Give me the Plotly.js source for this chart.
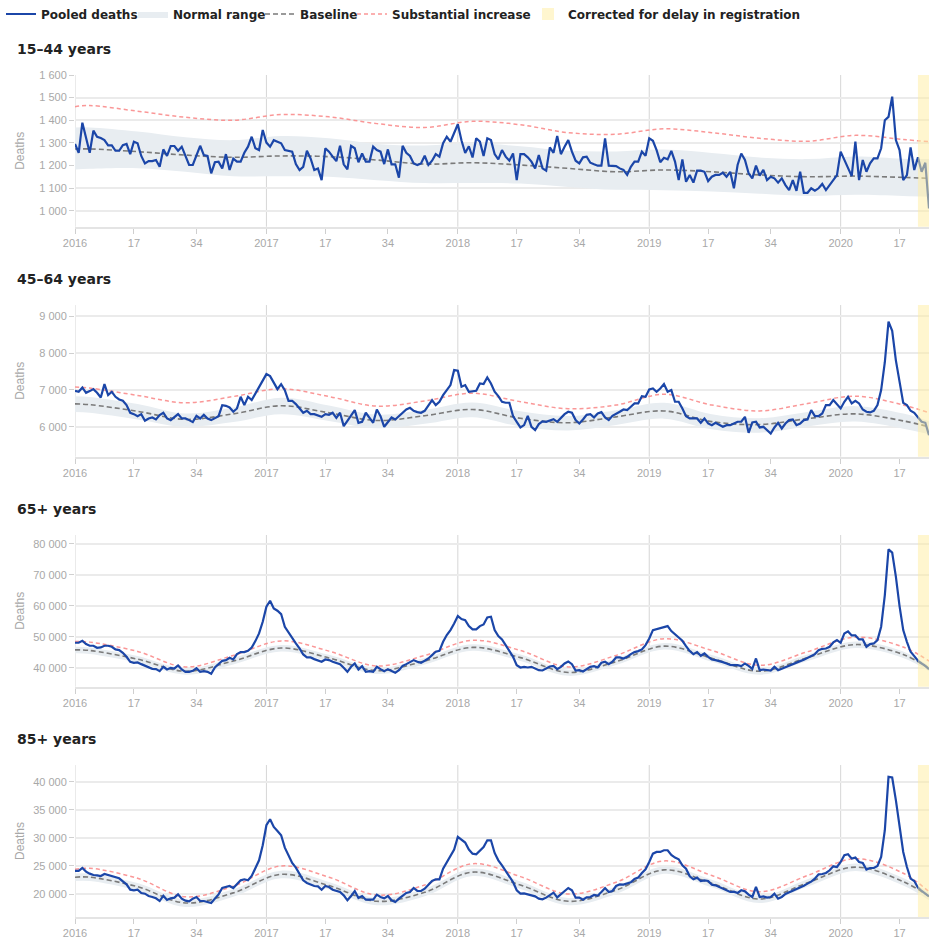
<!DOCTYPE html>
<html>
<head>
<meta charset="utf-8">
<script src="https://cdn.plot.ly/plotly-3.0.1.min.js"></script>
<style>
  body { margin: 0; background: #fff; }
  #chart { width: 943px; height: 948px; }
</style>
</head>
<body>
<div id="chart"></div>
<script>
// Weeks shown: 2016 w1 .. 2020 w25
const years = [2016, 2017, 2018, 2019, 2020];
const weeksInYear = [52, 52, 52, 52, 25];
const tickWeeks = [1, 17, 34];
const correctedWeeks2020 = [22, 25]; // corrected for delay in registration

const groupNames = ["15–44 years", "45–64 years", "65+ years", "85+ years"];

// Pooled deaths, one value per week
const pooled15_44 = [
  1295,1256,1389,1327,1256,1354,1327,1321,1312,1289,1289,1265,1265,1290,1295,1250,1305,1298,1242,1209,
  1219,1219,1224,1194,1271,1242,1286,1286,1265,1283,1246,1202,1202,1246,1287,1246,1242,1165,1214,1217,
  1187,1250,1180,1230,1217,1217,1256,1283,1327,1276,1268,1357,1301,1283,1312,1305,1298,1268,1265,1261,
  1206,1180,1194,1265,1231,1180,1187,1135,1276,1261,1239,1219,1287,1205,1183,1287,1276,1214,1253,1217,
  1217,1283,1268,1261,1206,1271,1205,1205,1146,1287,1256,1242,1209,1202,1209,1243,1202,1221,1250,1239,
  1298,1327,1305,1342,1382,1310,1255,1285,1235,1320,1305,1242,1320,1312,1250,1227,1268,1239,1221,1253,
  1135,1250,1250,1236,1217,1187,1246,1187,1177,1280,1256,1330,1250,1283,1312,1261,1221,1209,1236,1239,
  1212,1205,1199,1199,1320,1199,1197,1197,1187,1180,1158,1194,1217,1217,1261,1243,1320,1309,1268,1214,
  1234,1227,1264,1217,1135,1227,1128,1158,1124,1177,1177,1172,1131,1150,1158,1158,1168,1150,1172,1099,
  1202,1253,1224,1165,1143,1199,1155,1180,1135,1150,1143,1124,1143,1113,1091,1135,1088,1172,1079,1079,
  1099,1088,1099,1118,1091,1113,1135,1157,1261,1224,1194,1153,1305,1135,1224,1172,1209,1231,1231,1276,
  1400,1415,1504,1312,1268,1135,1157,1280,1180,1236,1172,1212,1010
];
const pooled45_64 = [
  6976,6949,7066,6922,6967,7021,6922,6795,7157,6858,6949,6813,6741,6705,6587,6380,6343,6289,6343,6163,
  6226,6253,6199,6316,6380,6226,6181,6271,6343,6226,6226,6181,6127,6298,6226,6325,6226,6181,6235,6289,
  6587,6569,6524,6407,6497,6813,6587,6813,6723,6904,7084,7265,7428,7374,7193,7021,7157,6994,6705,6705,
  6614,6497,6380,6434,6343,6343,6316,6271,6343,6325,6380,6244,6380,6018,6163,6316,6452,6108,6136,6380,
  6226,6108,6470,6289,6000,6136,6253,6199,6289,6380,6470,6515,6434,6398,6380,6434,6587,6723,6587,6678,
  6858,7012,7130,7536,7518,7084,7130,6949,6967,6976,7175,7157,7337,7175,6949,6831,6678,6651,6651,6289,
  6136,5982,6045,6298,6000,5910,6072,6145,6136,6181,6208,6136,6235,6343,6407,6380,6181,6090,6199,6325,
  6343,6253,6362,6398,6253,6181,6298,6343,6407,6470,6452,6542,6633,6633,6831,6813,7012,7039,6949,7039,
  7157,6949,6994,6678,6678,6497,6289,6226,6235,6226,6108,6226,6090,6045,6108,6045,6000,6045,6045,6090,
  6136,6136,6271,5837,6118,6136,5982,6000,5910,5819,5982,6108,5955,6090,6181,6199,6045,6090,6181,6199,
  6452,6289,6289,6362,6587,6587,6723,6614,6497,6678,6813,6633,6705,6633,6470,6407,6389,6434,6587,6994,
  7750,8850,8600,7800,7250,6650,6587,6434,6380,6271,6136,6108,5774
];
const pooled65 = [
  48090,48090,48740,47660,47120,47120,46470,46580,47120,47120,46800,45940,45720,44860,43560,41950,41620,41730,41190,40650,
  40000,39680,39570,38930,40330,39460,40000,39790,40760,39460,38710,38710,39040,39900,38710,38930,38710,38070,40110,41080,
  42270,42490,43240,42700,44430,45080,45080,45500,46580,48630,51110,54880,59730,61670,59190,58440,57360,53270,51320,49490,
  47870,46250,44310,43350,43350,42810,42490,41950,42700,42490,41950,41620,41190,40000,38710,40330,41400,39460,40540,38710,
  38930,38710,40330,39570,38930,39570,39040,38390,39250,40650,41190,41840,42490,41950,41620,42270,43020,44100,45180,45500,
  48410,50570,52190,54340,56720,55750,55420,53480,52400,52400,53480,54020,56280,56500,52190,50250,49170,47330,45500,43560,
  40870,40110,40330,40110,40330,39680,39250,39140,39680,40440,40650,39570,40330,41400,42050,41190,39140,39250,38820,39680,
  40330,40540,40110,41620,41950,41190,41950,43350,43350,43020,43560,44430,45080,45400,45940,47330,49490,52190,52510,52620,
  53050,53480,51860,50790,50030,48740,47010,45400,44430,45080,43890,44640,43560,42700,42490,42270,41840,41400,40980,40870,
  40870,40540,41400,40650,39680,43020,39250,39460,39250,39140,40330,39250,39680,40220,40760,41190,41620,42160,42590,43130,
  43670,44430,45720,46150,46250,46800,48200,48950,48090,51110,51760,50460,50460,49170,49170,46800,47660,47870,48950,53270,
  63500,78300,77200,69430,59950,52190,48410,45180,43780,42270,41400,40650,39570
];
const pooled85 = [
  24110,24110,24640,23990,23630,23390,23330,23210,23570,23390,23100,23040,22800,22260,21730,20770,20660,20770,20180,20060,
  19640,19470,19230,18750,19700,18930,19230,19350,19940,19170,18810,18690,19170,19470,18750,18750,18570,18390,19170,19940,
  21070,21250,21430,21070,21850,22440,22620,22440,23210,24520,26010,28690,32260,33330,31960,31250,30480,28270,26900,25540,
  24700,23450,22440,21970,21730,21430,21370,20770,21430,21250,20770,20540,20360,19760,18870,19640,20540,19290,19640,18990,
  18990,18990,19880,19470,19230,19640,18870,18570,19170,19760,20180,20360,21070,20540,20540,20950,21550,22320,22620,22620,
  24520,25710,26900,27920,30180,29700,29170,27920,27200,27080,27800,28390,29580,29580,27320,26010,25120,24110,23160,22140,
  20660,20060,20120,19940,19880,19580,19170,19050,19350,19880,20240,19410,19940,20540,21070,20660,19350,19350,18990,19410,
  19470,19820,19700,20360,21070,20360,20540,21430,21730,21670,21850,22080,22680,22920,23750,24410,25710,27200,27500,27500,
  27800,27800,26970,26490,26190,25120,24520,23160,22620,22920,22320,22440,22320,21670,21550,21250,21070,20770,20360,20420,
  20180,20660,20480,19880,19470,21250,19470,19580,19350,19470,20060,19170,19470,20000,20300,20480,20770,21190,21490,21850,
  22200,22740,23510,23570,23750,24230,24940,24820,25710,26900,27080,26310,26490,25710,25540,24350,24640,24640,25000,26610,
  31370,40890,40770,36730,31670,27500,24820,22740,22320,21130,20540,20060,19580
];

// Smooth curves, read at these week positions (index from 2016 w1)
const curveWeeks = [0,4,17,30,43,56,69,82,95,108,121,134,147,160,173,186,199,212,225,232];

const baseline15_44 = [1273,1273,1261,1246,1236,1242,1239,1224,1206,1212,1202,1187,1172,1180,1172,1158,1150,1153,1147,1143];
const substantial15_44 = [1460,1465,1440,1413,1400,1425,1415,1385,1368,1395,1380,1345,1338,1362,1345,1320,1307,1333,1315,1305];
const upper15_44 = [1368,1368,1350,1325,1312,1330,1320,1295,1288,1298,1285,1265,1262,1270,1255,1235,1228,1240,1230,1228];
const lower15_44 = [1182,1185,1188,1172,1152,1152,1150,1135,1122,1122,1120,1105,1092,1090,1085,1075,1065,1070,1065,1062];

const baseline45_64 = [6620,6600,6420,6200,6350,6570,6380,6170,6300,6470,6230,6110,6270,6430,6140,6060,6220,6350,6160,6000];
const substantial45_64 = [7080,7050,6850,6650,6820,7030,6820,6560,6700,6910,6680,6490,6590,6880,6590,6430,6630,6830,6590,6380];
const upper45_64 = [6830,6810,6620,6360,6520,6790,6580,6330,6460,6660,6420,6290,6450,6650,6340,6230,6400,6560,6360,6150];
const lower45_64 = [6400,6380,6200,6000,6130,6340,6160,5960,6080,6260,6010,5900,6050,6220,5930,5840,6010,6140,5950,5800];

const baseline65 = [45800,45600,42800,38900,42200,46400,43200,39100,42200,46600,43300,38500,42000,47000,43100,38900,43300,47500,44300,39800];
const substantial65 = [48500,48300,45300,40300,44000,48700,45400,40600,44000,48900,45600,40300,44000,49400,45600,40800,45200,49900,46700,42200];
const upper65 = [46800,46600,43800,39800,43200,47400,44200,40000,43200,47600,44300,39400,43000,48000,44100,39800,44300,48500,45300,40600];
const lower65 = [44700,44500,41700,37800,41100,45300,42100,38000,41100,45500,42200,37400,40900,45900,42000,37800,42200,46400,43200,38900];

const baseline85 = [23000,23000,21300,18400,20200,23500,21500,18700,20300,23900,21600,18700,20700,24300,21900,19100,22000,24800,22200,19600];
const substantial85 = [24400,24600,22800,19500,21400,25000,23000,19800,21600,25400,23100,20000,22100,25900,23300,20400,23300,26300,23700,20400];
const upper85 = [23650,23650,21950,19000,20850,24150,22150,19300,20950,24550,22250,19300,21350,24950,22550,19700,22650,25450,22850,20200];
const lower85 = [22300,22300,20600,17700,19500,22800,20800,18000,19600,23200,20900,18000,20000,23600,21200,18400,21300,24100,21500,18900];

const panels = [
  { name: groupNames[0], pooled: pooled15_44, baseline: baseline15_44, substantial: substantial15_44, upper: upper15_44, lower: lower15_44, range: [929, 1600], dtick: 100 },
  { name: groupNames[1], pooled: pooled45_64, baseline: baseline45_64, substantial: substantial45_64, upper: upper45_64, lower: lower45_64, range: [5190, 9300], dtick: 1000 },
  { name: groupNames[2], pooled: pooled65, baseline: baseline65, substantial: substantial65, upper: upper65, lower: lower65, range: [33900, 82900], dtick: 10000 },
  { name: groupNames[3], pooled: pooled85, baseline: baseline85, substantial: substantial85, upper: upper85, lower: lower85, range: [15900, 43000], dtick: 5000 }
];

// week index along the x axis, plus tick positions
const weekIndex = [];
const yearStart = [];
const tickVals = [];
const tickText = [];
let n = 0;
years.forEach((yr, k) => {
  yearStart.push(n);
  tickWeeks.forEach(w => {
    if (w <= weeksInYear[k]) {
      tickVals.push(n + w - 1);
      tickText.push(w === 1 ? String(yr) : String(w));
    }
  });
  for (let w = 1; w <= weeksInYear[k]; w++) weekIndex.push(n++);
});
const lastIndex = n - 1;
const corrFrom = yearStart[4] + correctedWeeks2020[0] - 1;
const corrTo = yearStart[4] + correctedWeeks2020[1] - 1;

const BLUE = "#1b46a8";
const GREY = "#7a7a7a";
const RED = "rgba(250,140,140,0.9)";
const BAND = "#e8edf1";
const YELLOW = "rgba(255,238,160,0.5)";
const TICK_GREY = "#a8a8a8";

// panel vertical placement (plot area from y=75 to y=917)
const domains = [[0.8198, 1], [0.5467, 0.7268], [0.2735, 0.4537], [0, 0.1805]];

// one legend per item so each can sit where it does in the original
function legendAt(px) {
  return {
    orientation: "h",
    xref: "container", yref: "container",
    x: px / 943, xanchor: "left",
    y: 1 - 14 / 948, yanchor: "middle",
    itemwidth: 30,
    font: { family: "DejaVu Sans", size: 12, color: "#222", weight: "bold" },
    bgcolor: "rgba(0,0,0,0)"
  };
}

const data = [];
const layout = {
  width: 943,
  height: 948,
  margin: { t: 75, r: 14, b: 31, l: 75 },
  paper_bgcolor: "#fff",
  plot_bgcolor: "#fff",
  separators: ". ",
  font: { family: "Liberation Sans, Arial, sans-serif", size: 11, color: TICK_GREY },
  showlegend: true,
  legend: legendAt(1),
  legend2: legendAt(133),
  legend3: legendAt(260),
  legend4: legendAt(352),
  legend5: legendAt(528),
  annotations: [],
  shapes: []
};

panels.forEach((p, i) => {
  const k = i === 0 ? "" : String(i + 1);
  const xa = "x" + k;
  const ya = "y" + k;
  const first = i === 0;

  data.push({
    x: curveWeeks, y: p.lower, xaxis: xa, yaxis: ya,
    mode: "lines", line: { width: 0, shape: "spline" },
    showlegend: false, hoverinfo: "skip"
  });
  data.push({
    x: curveWeeks, y: p.upper, xaxis: xa, yaxis: ya,
    mode: "lines", fill: "tonexty", fillcolor: BAND,
    line: { width: 0, shape: "spline" },
    name: "Normal range", legend: "legend2", showlegend: first, hoverinfo: "skip"
  });
  data.push({
    x: curveWeeks, y: p.baseline, xaxis: xa, yaxis: ya,
    mode: "lines", line: { color: GREY, width: 1.6, dash: "5px,3px", shape: "spline" },
    name: "Baseline", legend: "legend3", showlegend: first
  });
  data.push({
    x: curveWeeks, y: p.substantial, xaxis: xa, yaxis: ya,
    mode: "lines", line: { color: RED, width: 1.5, dash: "4px,3px", shape: "spline" },
    name: "Substantial increase", legend: "legend4", showlegend: first
  });
  data.push({
    x: weekIndex, y: p.pooled, xaxis: xa, yaxis: ya,
    mode: "lines", line: { color: BLUE, width: 2.2 },
    name: "Pooled deaths", legend: "legend", showlegend: first
  });

  layout["xaxis" + k] = {
    domain: [0, 1], anchor: ya,
    range: [0, lastIndex],
    tickmode: "array", tickvals: tickVals, ticktext: tickText,
    ticks: "outside", ticklen: 5, tickcolor: "#cfcfcf",
    showgrid: false, zeroline: false,
    showline: true, linecolor: "#e4e4e4", linewidth: 2,
    automargin: false,
    tickfont: { size: 11, color: TICK_GREY }
  };
  layout["yaxis" + k] = {
    domain: domains[i], anchor: xa,
    range: p.range, dtick: p.dtick, tick0: 0,
    separatethousands: true, exponentformat: "none",
    ticks: "outside", ticklen: 5, tickcolor: "#d0d0d0",
    gridcolor: "#ebebeb", gridwidth: 2,
    zeroline: false, showline: false,
    automargin: false,
    tickfont: { size: 11, color: TICK_GREY }
  };

  // panel title
  layout.annotations.push({
    text: p.name, xref: "paper", yref: "paper",
    x: -0.0703, xanchor: "left",
    y: domains[i][1] + 0.0309, yanchor: "middle",
    showarrow: false,
    font: { family: "DejaVu Sans", size: 14, color: "#222", weight: "bold" }
  });

  // y axis title, kept at the same x for every panel
  layout.annotations.push({
    text: "Deaths", xref: "paper", yref: "paper",
    x: -0.0644, xanchor: "center",
    y: (domains[i][0] + domains[i][1]) / 2, yanchor: "middle",
    textangle: -90, showarrow: false,
    font: { size: 12, color: TICK_GREY }
  });

  // vertical line at the start of each year
  yearStart.forEach(s => {
    layout.shapes.push({
      type: "line", xref: xa, yref: ya + " domain",
      x0: s, x1: s, y0: 0, y1: 1,
      line: { color: "#d6d6d6", width: 1 }, layer: "below"
    });
  });

  // corrected for delay in registration
  layout.shapes.push({
    type: "rect", xref: xa, yref: ya + " domain",
    x0: corrFrom, x1: corrTo, y0: 0, y1: 1,
    fillcolor: YELLOW, line: { width: 0 }, layer: "above",
    name: "Corrected for delay in registration",
    legend: "legend5", showlegend: first
  });
});

Plotly.newPlot("chart", data, layout, { displayModeBar: false, staticPlot: true });
</script>
</body>
</html>
